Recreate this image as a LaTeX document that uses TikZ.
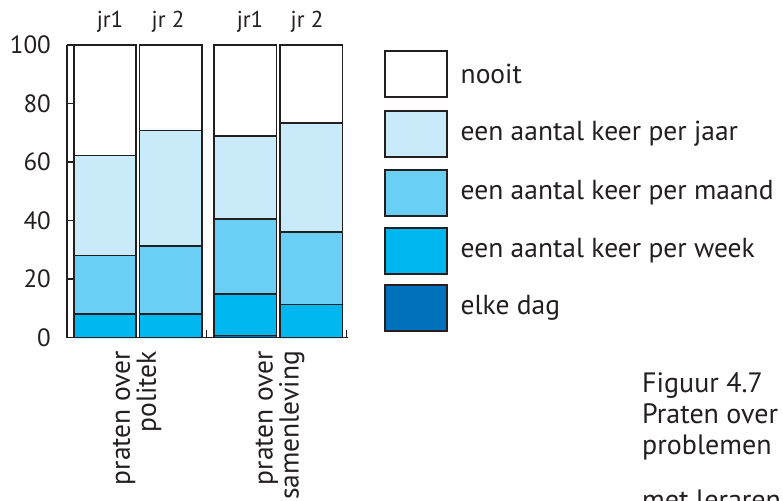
\documentclass[tikz,border=0pt]{standalone}
\usepackage{fontspec}
\setmainfont{PT Sans}
\definecolor{lc}{HTML}{231F20}
\definecolor{cjaar}{HTML}{C8EAF9}
\definecolor{cmaand}{HTML}{6BCEF5}
\definecolor{cweek}{HTML}{00B8EF}
\definecolor{cdag}{HTML}{0071BA}
\begin{document}
\begin{tikzpicture}[x=1pt,y=-1pt,
  seg/.style={draw=lc,line width=1.5pt},
  axisline/.style={draw=lc,line width=1.5pt},
  legbox/.style={draw=lc,line width=1.5pt,minimum width=62pt,minimum height=46pt,inner sep=0pt},
  txt/.style={font=\fontsize{27.5}{30}\selectfont,text=lc,inner sep=0pt},
  captxt/.style={font=\fontsize{28}{30}\selectfont,text=lc,inner sep=0pt,anchor=base west},
  yrtxt/.style={font=\fontsize{23}{26}\selectfont,text=lc,inner sep=0pt},
  rottxt/.style={font=\fontsize{27.5}{23}\selectfont,text=lc,inner sep=0pt,rotate=90,anchor=east,align=right},
  tick/.style={font=\fontsize{25}{28}\selectfont,text=lc,inner sep=0pt,anchor=east}]
\useasboundingbox (0,0) rectangle (783,500);
\clip (0,0) rectangle (783,500);
% bars
\begin{scope}[shift={(0,337.5)},y=2.925pt]
  \foreach \xa/\xb/\a/\b/\c/\d in {74/136/0/8/28/62.3, 139.5/202/0/8/31.3/70.8, 214/276.7/0.6/14.9/40.5/68.9, 280/342.7/0/11.3/36.1/73.3}{
    \fill[cdag] (\xa,0) rectangle (\xb,\a);
    \filldraw[seg,fill=cweek] (\xa,\a) rectangle (\xb,\b);
    \filldraw[seg,fill=cmaand] (\xa,\b) rectangle (\xb,\c);
    \filldraw[seg,fill=cjaar] (\xa,\c) rectangle (\xb,\d);
    \filldraw[seg,fill=white] (\xa,\d) rectangle (\xb,100);
    \draw[seg] (\xa,0) rectangle (\xb,\a);
  }
  % axis
  \draw[axisline] (67,100) -- (67,0) -- (348,0);
  \foreach \v in {20,40,60,80,100} \draw[axisline] (67,\v) -- (74,\v);
  \draw[line width=1pt,lc] (206,0) -- (206,2.5);
  \draw[line width=1pt,lc] (346.5,0) -- (346.5,2.5);
  \foreach \v in {0,20,40,60,80,100} \node[tick] (t\v) at (51,\v) {\v};
\end{scope}
% year labels
\node[yrtxt] (j1) at (110,22) {jr1};
\node[yrtxt] (j2) at (168,22) {jr 2};
\node[yrtxt] (j3) at (250,22) {jr1};
\node[yrtxt] (j4) at (307,22) {jr 2};
% rotated labels
\node[rottxt] (l1) at (137,351) {praten over\\politek};
\node[rottxt] (l2) at (280,351) {praten over\\samenleving};
% legend
\foreach \i/\c/\y/\t in {1/white/74/nooit, 2/cjaar/134/een aantal keer per jaar, 3/cmaand/193/een aantal keer per maand, 4/cweek/251/een aantal keer per week, 5/cdag/308/elke dag}{
  \node[legbox,fill=\c] (lb\i) at (416,\y) {};
  \node[txt,anchor=west] (lt\i) at (460.5,\y) {\t};
}
% caption
\node[captxt] (c1) at (642,392) {Figuur 4.7};
\node[captxt] (c2) at (642,423) {Praten over};
\node[captxt] (c3) at (642,454) {problemen};
\node[captxt] (c4) at (642,509) {met leraren};
\end{tikzpicture}
\end{document}
